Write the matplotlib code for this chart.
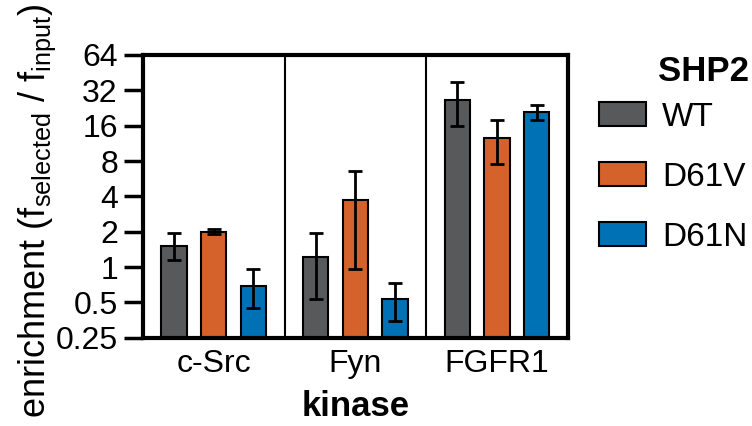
import matplotlib
matplotlib.use('Agg')
from matplotlib import pyplot as plt
from matplotlib.patches import Patch
import numpy as np

plt.rcParams['font.family'] = ['Liberation Sans', 'DejaVu Sans']
plt.rcParams['mathtext.fontset'] = 'custom'
plt.rcParams['mathtext.rm'] = 'Liberation Sans'
plt.rcParams['mathtext.it'] = 'Liberation Sans'

kinases = ["c-Src", "Fyn", "FGFR1"]
variants = ["WT", "D61V", "D61N"]
colors = ["#58595b", "#d5622a", "#0071b4"]

# mean enrichment per variant, for c-Src, Fyn, FGFR1
means = {
    "WT": [1.52, 1.23, 26.3],
    "D61V": [2.0, 3.73, 12.5],
    "D61N": [0.69, 0.53, 20.8],
}
err_low = {
    "WT": [1.15, 0.54, 15.8],
    "D61V": [1.9, 0.97, 7.6],
    "D61N": [0.45, 0.35, 17.9],
}
err_high = {
    "WT": [1.96, 1.96, 37.8],
    "D61V": [2.09, 6.6, 18.0],
    "D61N": [0.96, 0.73, 24.2],
}

fig = plt.figure(figsize=(7.52, 4.26), dpi=100)
ax = fig.add_axes([0.190, 0.207, 0.565, 0.664])

x = np.arange(len(kinases))
width = 0.18
offsets = [-0.28, 0.0, 0.28]
bottom = 0.25
for v, off, c in zip(variants, offsets, colors):
    m = np.array(means[v])
    lo = m - np.array(err_low[v])
    hi = np.array(err_high[v]) - m
    ax.bar(x + off, m - bottom, width, bottom=bottom, color=c,
           edgecolor="black", linewidth=1.5, zorder=2)
    ax.errorbar(x + off, m, yerr=[lo, hi], fmt="none", ecolor="black",
                elinewidth=2, capsize=5, capthick=2, zorder=3)

ax.set_yscale("log", base=2)
ax.set_ylim(0.25, 64)
ax.set_xlim(-0.5, 2.5)
yt = [0.25, 0.5, 1, 2, 4, 8, 16, 32, 64]
ax.set_yticks(yt)
ax.set_yticklabels(["0.25", "0.5", "1", "2", "4", "8", "16", "32", "64"])
ax.yaxis.set_minor_locator(matplotlib.ticker.NullLocator())
ax.set_xticks(x)
ax.set_xticklabels(kinases)
ax.tick_params(axis="y", direction="out", length=14, width=2.5, labelsize=23, pad=4)
ax.tick_params(axis="x", length=0, labelsize=23, pad=8)
for s in ax.spines.values():
    s.set_linewidth(3)
for sep in [0.5, 1.5]:
    ax.axvline(sep, color="black", linewidth=1.5, zorder=1)

ax.set_ylabel(r"enrichment (f$_{\mathrm{selected}}$ / f$_{\mathrm{input}}$)",
              fontsize=26)
ax.yaxis.set_label_coords(-0.20, 0.449)
ax.set_xlabel("kinase", fontsize=25, fontweight="bold", labelpad=8)

handles = [Patch(facecolor=c, edgecolor="black", linewidth=1.5) for c in colors]
fig.legend(handles, variants, loc="upper left",
           bbox_to_anchor=(0.7965, 0.761), frameon=False, fontsize=24,
           handlelength=1.41, handleheight=0.75, labelspacing=0.87,
           handletextpad=0.48, borderpad=0, borderaxespad=0)
fig.text(658 / 752, 1 - 55 / 426, "SHP2", fontsize=25, fontweight="bold",
         ha="left", va="top")

fig.savefig("out.png", dpi=100)
